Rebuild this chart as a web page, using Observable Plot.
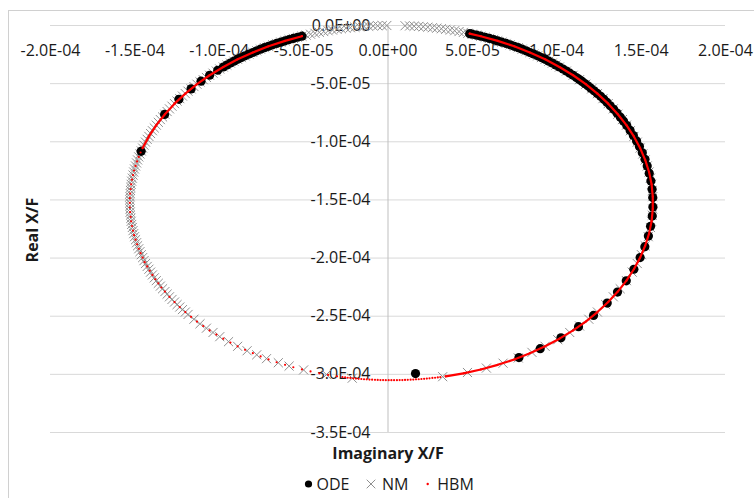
<!DOCTYPE html>
<html>
<head>
<meta charset="utf-8">
<script src="https://cdn.jsdelivr.net/npm/d3@7"></script>
<script src="https://cdn.jsdelivr.net/npm/@observablehq/plot@0.6"></script>
<style>
html,body{margin:0;padding:0;background:#fff;}
#wrap{position:relative;width:754px;height:498px;overflow:hidden;font-family:"Open Sans",sans-serif;}
#chart{position:absolute;left:0;top:0;}
#legend{position:absolute;left:0;top:470px;width:754px;height:28px;}
#frame{position:absolute;left:8px;top:10px;width:900px;height:700px;border-left:1px solid #d0d0d0;border-top:1px solid #d0d0d0;pointer-events:none;}
</style>
</head>
<body>
<div id="wrap"><div id="chart"></div><div id="legend"></div><div id="frame"></div></div>
<script>
// Axis ticks
const xTickValues = [-2e-4, -1.5e-4, -1e-4, -5e-5, 0, 5e-5, 1e-4, 1.5e-4, 2e-4];
const xTickLabels = ["-2.0E-04", "-1.5E-04", "-1.0E-04", "-5.0E-05", "0.0E+00", "5.0E-05", "1.0E-04", "1.5E-04", "2.0E-04"];
const yTickValues = [0, -5e-5, -1e-4, -1.5e-4, -2e-4, -2.5e-4, -3e-4, -3.5e-4];
const yTickLabels = ["0.0E+00", "-5.0E-05", "-1.0E-04", "-1.5E-04", "-2.0E-04", "-2.5E-04", "-3.0E-04", "-3.5E-04"];
const seriesNames = ["ODE", "NM", "HBM"];
const xTitle = "Imaginary X/F";
const yTitle = "Real X/F";

// ODE series: [imaginary, real]
const ode = [
[-51.0e-6,-9.2e-6],[-53.6e-6,-10.1e-6],[-56.1e-6,-11.1e-6],[-58.6e-6,-12.1e-6],[-61.0e-6,-13.2e-6],[-63.5e-6,-14.3e-6],[-66.0e-6,-15.4e-6],[-68.4e-6,-16.6e-6],[-70.8e-6,-17.9e-6],[-73.2e-6,-19.1e-6],
[-75.5e-6,-20.4e-6],[-77.8e-6,-21.8e-6],[-80.1e-6,-23.2e-6],[-82.4e-6,-24.6e-6],[-84.7e-6,-26.1e-6],[-86.9e-6,-27.6e-6],[-89.1e-6,-29.1e-6],[-91.3e-6,-30.7e-6],[-93.4e-6,-32.3e-6],[-95.5e-6,-34.0e-6],
[-97.6e-6,-35.7e-6],[-100.9e-6,-38.5e-6],[-105.7e-6,-42.8e-6],[-110.8e-6,-47.9e-6],[-116.7e-6,-54.5e-6],[-123.9e-6,-63.5e-6],[-132.4e-6,-76.5e-6],[-146.3e-6,-108.2e-6],
[16.3e-6,-299.3e-6],
[77.6e-6,-285.6e-6],[90.2e-6,-277.9e-6],[102.5e-6,-268.6e-6],[112.9e-6,-259.0e-6],[121.8e-6,-249.3e-6],[129.9e-6,-238.7e-6],[136.0e-6,-229.2e-6],[141.2e-6,-219.6e-6],[145.7e-6,-209.6e-6],[149.4e-6,-199.6e-6],
[152.2e-6,-190.2e-6],[154.3e-6,-181.1e-6],[155.6e-6,-172.7e-6],[156.6e-6,-163.9e-6],[157.0e-6,-156.0e-6],[156.9e-6,-148.0e-6],[156.5e-6,-140.8e-6],[155.8e-6,-133.7e-6],[154.8e-6,-127.1e-6],[153.6e-6,-120.8e-6],
[152.3e-6,-115.1e-6],[150.7e-6,-109.5e-6],[149.0e-6,-104.1e-6],[147.3e-6,-99.3e-6],[145.4e-6,-94.6e-6],[143.5e-6,-90.2e-6],[141.5e-6,-86.1e-6],[139.6e-6,-82.3e-6],[137.7e-6,-78.8e-6],[135.7e-6,-75.3e-6],
[133.7e-6,-72.1e-6],[131.7e-6,-69.0e-6],[129.7e-6,-66.1e-6],[127.9e-6,-63.5e-6],[126.0e-6,-60.9e-6],[124.0e-6,-58.4e-6],[122.1e-6,-56.1e-6],[120.2e-6,-53.9e-6],[118.4e-6,-51.9e-6],[116.6e-6,-49.9e-6],
[115.0e-6,-48.1e-6],[113.3e-6,-46.4e-6],[111.6e-6,-44.7e-6],[109.7e-6,-42.8e-6],[107.7e-6,-41.0e-6],[105.7e-6,-39.2e-6],[103.7e-6,-37.4e-6],[101.6e-6,-35.7e-6],[99.5e-6,-34.0e-6],[97.4e-6,-32.3e-6],
[95.3e-6,-30.7e-6],[93.1e-6,-29.1e-6],[90.9e-6,-27.6e-6],[88.7e-6,-26.1e-6],[86.4e-6,-24.6e-6],[84.1e-6,-23.2e-6],[81.8e-6,-21.8e-6],[79.5e-6,-20.4e-6],[77.2e-6,-19.1e-6],[74.8e-6,-17.9e-6],
[72.4e-6,-16.6e-6],[70.0e-6,-15.4e-6],[67.5e-6,-14.3e-6],[65.0e-6,-13.2e-6],[62.6e-6,-12.1e-6],[60.1e-6,-11.1e-6],[57.6e-6,-10.1e-6],[55.0e-6,-9.2e-6],[52.5e-6,-8.3e-6],[49.9e-6,-7.5e-6],[48.4e-6,-7.0e-6]
];

// NM series: [imaginary, real]
const nm = [
[-0.7e-6,0.0e-6],[-3.4e-6,-0.1e-6],[-6.1e-6,-0.2e-6],[-8.8e-6,-0.4e-6],[-11.5e-6,-0.6e-6],[-14.2e-6,-0.8e-6],[-16.9e-6,-1.1e-6],[-19.6e-6,-1.5e-6],[-22.3e-6,-1.9e-6],[-24.9e-6,-2.3e-6],
[-27.6e-6,-2.8e-6],[-30.2e-6,-3.3e-6],[-32.9e-6,-3.9e-6],[-35.5e-6,-4.5e-6],[-38.1e-6,-5.2e-6],[-40.7e-6,-5.9e-6],[-43.3e-6,-6.7e-6],[-45.9e-6,-7.5e-6],[-48.5e-6,-8.3e-6],[-51.0e-6,-9.2e-6],
[-53.6e-6,-10.1e-6],[-56.1e-6,-11.1e-6],[-58.6e-6,-12.1e-6],[-61.0e-6,-13.2e-6],[-63.5e-6,-14.3e-6],[-66.0e-6,-15.4e-6],[-68.4e-6,-16.6e-6],[-70.8e-6,-17.9e-6],[-73.2e-6,-19.1e-6],[-75.5e-6,-20.4e-6],
[-77.8e-6,-21.8e-6],[-80.1e-6,-23.2e-6],[-82.4e-6,-24.6e-6],[-84.7e-6,-26.1e-6],[-86.9e-6,-27.6e-6],[-89.1e-6,-29.1e-6],[-91.3e-6,-30.7e-6],[-93.4e-6,-32.3e-6],[-95.5e-6,-34.0e-6],[-97.6e-6,-35.7e-6],
[-99.7e-6,-37.4e-6],[-101.7e-6,-39.2e-6],[-103.7e-6,-41.0e-6],[-105.7e-6,-42.8e-6],[-107.6e-6,-44.7e-6],[-109.5e-6,-46.6e-6],[-111.4e-6,-48.5e-6],[-113.2e-6,-50.5e-6],[-115.0e-6,-52.5e-6],[-116.7e-6,-54.5e-6],
[-118.5e-6,-56.5e-6],[-120.1e-6,-58.6e-6],[-121.8e-6,-60.7e-6],[-123.4e-6,-62.9e-6],[-125.0e-6,-65.0e-6],[-126.5e-6,-67.2e-6],[-128.0e-6,-69.4e-6],[-129.5e-6,-71.7e-6],[-130.9e-6,-74.0e-6],[-132.2e-6,-76.3e-6],
[-133.6e-6,-78.6e-6],[-134.9e-6,-80.9e-6],[-136.1e-6,-83.3e-6],[-137.3e-6,-85.7e-6],[-138.5e-6,-88.1e-6],[-139.6e-6,-90.5e-6],[-140.7e-6,-92.9e-6],[-141.7e-6,-95.4e-6],[-142.7e-6,-97.9e-6],[-143.7e-6,-100.3e-6],
[-144.6e-6,-102.9e-6],[-145.4e-6,-105.4e-6],[-146.2e-6,-107.9e-6],[-147.0e-6,-110.5e-6],[-147.7e-6,-113.0e-6],[-148.4e-6,-115.6e-6],[-149.0e-6,-118.2e-6],[-149.6e-6,-120.8e-6],[-150.2e-6,-123.4e-6],[-150.7e-6,-126.0e-6],
[-151.1e-6,-128.6e-6],[-151.5e-6,-131.3e-6],[-151.9e-6,-133.9e-6],[-152.2e-6,-136.6e-6],[-152.4e-6,-139.2e-6],[-152.6e-6,-141.9e-6],[-152.8e-6,-144.5e-6],[-152.9e-6,-147.2e-6],[-153.0e-6,-149.8e-6],[-153.0e-6,-152.5e-6],
[-153.0e-6,-155.2e-6],[-152.9e-6,-157.8e-6],[-152.8e-6,-160.5e-6],[-152.6e-6,-163.1e-6],[-152.4e-6,-165.8e-6],[-152.2e-6,-168.4e-6],[-151.9e-6,-171.1e-6],[-151.5e-6,-173.7e-6],[-151.1e-6,-176.4e-6],[-150.7e-6,-179.0e-6],
[-150.2e-6,-181.6e-6],[-149.6e-6,-184.2e-6],[-149.0e-6,-186.8e-6],[-148.4e-6,-189.4e-6],[-147.7e-6,-192.0e-6],[-147.0e-6,-194.5e-6],[-146.2e-6,-197.1e-6],[-145.4e-6,-199.6e-6],[-144.6e-6,-202.2e-6],[-143.7e-6,-204.7e-6],
[-142.7e-6,-207.2e-6],[-141.7e-6,-209.6e-6],[-140.7e-6,-212.1e-6],[-139.6e-6,-214.5e-6],[-138.5e-6,-217.0e-6],[-137.3e-6,-219.4e-6],[-136.1e-6,-221.7e-6],[-134.9e-6,-224.1e-6],[-133.6e-6,-226.4e-6],[-132.2e-6,-228.8e-6],
[-130.9e-6,-231.0e-6],[-129.5e-6,-233.3e-6],[-128.0e-6,-235.6e-6],[-126.5e-6,-237.8e-6],[-125.0e-6,-240.0e-6],[-123.4e-6,-242.1e-6],[-121.8e-6,-244.3e-6],[-120.1e-6,-246.4e-6],[-118.5e-6,-248.5e-6],[-115.0e-6,-252.6e-6],
[-111.4e-6,-256.5e-6],[-107.6e-6,-260.3e-6],[-103.7e-6,-264.0e-6],[-99.7e-6,-267.6e-6],[-94.5e-6,-271.9e-6],[-89.1e-6,-275.9e-6],[-83.5e-6,-279.7e-6],[-77.8e-6,-283.2e-6],[-72.0e-6,-286.5e-6],[-65.0e-6,-290.0e-6],
[-58.6e-6,-292.9e-6],[-50.0e-6,-296.2e-6],[-36.5e-6,-300.2e-6],[-21.2e-6,-303.3e-6],
[32.4e-6,-302.0e-6],[47.1e-6,-298.4e-6],[58.3e-6,-294.6e-6],[68.2e-6,-290.4e-6],[77.2e-6,-285.9e-6],[85.3e-6,-281.1e-6],[93.1e-6,-275.9e-6],[100.6e-6,-270.2e-6],[107.7e-6,-264.0e-6],[113.5e-6,-258.4e-6],
[119.0e-6,-252.6e-6],[124.1e-6,-246.4e-6],[129.0e-6,-240.0e-6],[133.5e-6,-233.3e-6],[137.6e-6,-226.4e-6],[141.3e-6,-219.4e-6],[144.7e-6,-212.1e-6],[147.7e-6,-204.7e-6],[150.2e-6,-197.1e-6],[152.4e-6,-189.4e-6],
[154.2e-6,-181.6e-6],[155.5e-6,-173.7e-6],[156.2e-6,-168.4e-6],[156.6e-6,-163.1e-6],[156.9e-6,-157.8e-6],[157.0e-6,-152.5e-6],[156.9e-6,-147.2e-6],[156.6e-6,-141.9e-6],[156.2e-6,-136.6e-6],[155.5e-6,-131.3e-6],
[154.7e-6,-126.0e-6],[153.6e-6,-120.8e-6],[152.4e-6,-115.6e-6],[151.0e-6,-110.5e-6],[149.4e-6,-105.4e-6],[147.7e-6,-100.3e-6],[145.7e-6,-95.4e-6],[143.6e-6,-90.5e-6],[141.3e-6,-85.7e-6],[138.9e-6,-80.9e-6],
[136.2e-6,-76.3e-6],[133.5e-6,-71.7e-6],[130.5e-6,-67.2e-6],[127.4e-6,-62.9e-6],[124.1e-6,-58.6e-6],[120.7e-6,-54.5e-6],[117.2e-6,-50.5e-6],[113.5e-6,-46.6e-6],[109.7e-6,-42.8e-6],[105.7e-6,-39.2e-6],
[101.6e-6,-35.7e-6],[99.5e-6,-34.0e-6],[97.4e-6,-32.3e-6],[95.3e-6,-30.7e-6],[93.1e-6,-29.1e-6],[90.9e-6,-27.6e-6],[88.7e-6,-26.1e-6],[86.4e-6,-24.6e-6],[84.1e-6,-23.2e-6],[81.8e-6,-21.8e-6],
[79.5e-6,-20.4e-6],[77.2e-6,-19.1e-6],[74.8e-6,-17.9e-6],[72.4e-6,-16.6e-6],[70.0e-6,-15.4e-6],[67.5e-6,-14.3e-6],[65.0e-6,-13.2e-6],[62.6e-6,-12.1e-6],[60.1e-6,-11.1e-6],[57.6e-6,-10.1e-6],
[55.0e-6,-9.2e-6],[52.5e-6,-8.3e-6],[49.9e-6,-7.5e-6],[47.3e-6,-6.7e-6],[44.7e-6,-5.9e-6],[42.1e-6,-5.2e-6],[39.5e-6,-4.5e-6],[36.9e-6,-3.9e-6],[34.2e-6,-3.3e-6],[31.6e-6,-2.8e-6],
[28.9e-6,-2.3e-6],[26.3e-6,-1.9e-6],[23.6e-6,-1.5e-6],[20.9e-6,-1.1e-6],[18.2e-6,-0.8e-6],[15.5e-6,-0.6e-6],[12.8e-6,-0.4e-6],[10.1e-6,-0.2e-6]
];

// HBM series: [imaginary, real], in three stretches (dense upper-left, sparse lower, dense right)
const hbmUpperLeft = [
[-51.0e-6,-9.2e-6],[-61.0e-6,-13.2e-6],[-70.8e-6,-17.9e-6],[-80.1e-6,-23.2e-6],[-89.1e-6,-29.1e-6],[-97.6e-6,-35.7e-6],[-105.7e-6,-42.8e-6],
[-113.2e-6,-50.5e-6],[-120.1e-6,-58.6e-6],[-126.5e-6,-67.2e-6],[-132.2e-6,-76.3e-6],[-137.3e-6,-85.7e-6],[-141.7e-6,-95.4e-6],[-145.4e-6,-105.4e-6]
];
const hbmLower = [
[-146.6e-6,-109.2e-6],[-147.7e-6,-113.0e-6],[-148.7e-6,-116.9e-6],[-149.6e-6,-120.8e-6],[-150.5e-6,-124.7e-6],[-151.1e-6,-128.6e-6],[-151.7e-6,-132.6e-6],[-152.2e-6,-136.6e-6],
[-152.5e-6,-140.6e-6],[-152.8e-6,-144.5e-6],[-153.0e-6,-148.5e-6],[-153.0e-6,-152.5e-6],[-153.0e-6,-156.5e-6],[-152.8e-6,-160.5e-6],[-152.5e-6,-164.5e-6],[-152.2e-6,-168.4e-6],
[-151.7e-6,-172.4e-6],[-151.1e-6,-176.4e-6],[-150.5e-6,-180.3e-6],[-149.6e-6,-184.2e-6],[-148.7e-6,-188.1e-6],[-147.7e-6,-192.0e-6],[-146.6e-6,-195.8e-6],[-145.4e-6,-199.6e-6],
[-144.2e-6,-203.5e-6],[-142.7e-6,-207.2e-6],[-141.2e-6,-210.9e-6],[-139.6e-6,-214.5e-6],[-137.9e-6,-218.2e-6],[-136.1e-6,-221.7e-6],[-134.3e-6,-225.3e-6],[-132.2e-6,-228.8e-6],
[-129.5e-6,-233.3e-6],[-126.5e-6,-237.8e-6],[-123.4e-6,-242.1e-6],[-120.1e-6,-246.4e-6],[-116.7e-6,-250.5e-6],[-113.2e-6,-254.6e-6],[-109.5e-6,-258.4e-6],[-105.7e-6,-262.2e-6],
[-101.7e-6,-265.8e-6],[-97.6e-6,-269.3e-6],[-93.4e-6,-272.7e-6],[-89.1e-6,-275.9e-6],[-84.7e-6,-278.9e-6],[-80.1e-6,-281.8e-6],[-75.5e-6,-284.6e-6],[-70.8e-6,-287.2e-6],
[-66.0e-6,-289.6e-6],[-61.0e-6,-291.8e-6],[-56.1e-6,-293.9e-6],[-51.0e-6,-295.8e-6],[-45.9e-6,-297.5e-6],[-40.7e-6,-299.1e-6],[-35.5e-6,-300.5e-6],[-30.2e-6,-301.7e-6],
[-27.0e-6,-302.3e-6],[-25.4e-6,-302.6e-6],[-23.9e-6,-302.9e-6],[-22.3e-6,-303.1e-6],[-20.6e-6,-303.4e-6],[-19.0e-6,-303.6e-6],[-17.4e-6,-303.8e-6],[-15.8e-6,-304.0e-6],
[-14.2e-6,-304.2e-6],[-12.6e-6,-304.3e-6],[-11.0e-6,-304.5e-6],[-9.4e-6,-304.6e-6],[-7.7e-6,-304.7e-6],[-6.1e-6,-304.8e-6],[-4.5e-6,-304.9e-6],[-2.9e-6,-304.9e-6],
[-1.3e-6,-305.0e-6],[0.4e-6,-305.0e-6],[2.0e-6,-305.0e-6],[3.6e-6,-305.0e-6],[5.3e-6,-305.0e-6],[6.9e-6,-304.9e-6],[8.5e-6,-304.9e-6],[10.1e-6,-304.8e-6],
[11.7e-6,-304.7e-6],[13.4e-6,-304.6e-6],[15.0e-6,-304.5e-6],[16.6e-6,-304.3e-6],[18.2e-6,-304.2e-6],[19.8e-6,-304.0e-6],[21.4e-6,-303.8e-6],[23.0e-6,-303.6e-6],
[24.6e-6,-303.4e-6],[26.3e-6,-303.1e-6],[27.9e-6,-302.9e-6],[29.5e-6,-302.6e-6],[31.0e-6,-302.3e-6]
];
const hbmRight = [
[34.2e-6,-301.7e-6],[44.7e-6,-299.1e-6],[55.0e-6,-295.8e-6],[65.0e-6,-291.8e-6],[74.8e-6,-287.2e-6],[84.1e-6,-281.8e-6],[93.1e-6,-275.9e-6],[101.6e-6,-269.3e-6],
[109.7e-6,-262.2e-6],[117.2e-6,-254.6e-6],[124.1e-6,-246.4e-6],[130.5e-6,-237.8e-6],[136.2e-6,-228.8e-6],[141.3e-6,-219.4e-6],[145.7e-6,-209.6e-6],[149.4e-6,-199.6e-6],
[152.4e-6,-189.4e-6],[154.7e-6,-179.0e-6],[156.2e-6,-168.4e-6],[156.9e-6,-157.8e-6],[156.9e-6,-147.2e-6],[156.2e-6,-136.6e-6],[154.7e-6,-126.0e-6],[152.4e-6,-115.6e-6],
[149.4e-6,-105.4e-6],[145.7e-6,-95.4e-6],[141.3e-6,-85.7e-6],[136.2e-6,-76.3e-6],[130.5e-6,-67.2e-6],[124.1e-6,-58.6e-6],[117.2e-6,-50.5e-6],[109.7e-6,-42.8e-6],
[101.6e-6,-35.7e-6],[93.1e-6,-29.1e-6],[84.1e-6,-23.2e-6],[74.8e-6,-17.9e-6],[65.0e-6,-13.2e-6],[55.0e-6,-9.2e-6],[48.4e-6,-7.0e-6]
];
const hbm = hbmUpperLeft.concat(hbmLower, hbmRight);

const FONT = "'Open Sans', sans-serif";
const TEXT = "#1a1a1a";
const colODE = "#000000", colNM = "#8f8f8f", colHBM = "#ff0000";
const X = d => d[0], Y = d => d[1];

const chart = Plot.plot({
  width: 754,
  height: 470,
  marginTop: 25,
  marginBottom: 38,
  marginLeft: 50,
  marginRight: 29,
  style: {fontFamily: FONT, background: "transparent", color: TEXT},
  x: {domain: [d3.min(xTickValues), d3.max(xTickValues)], axis: null},
  y: {domain: [d3.min(yTickValues), d3.max(yTickValues)], axis: null},
  marks: [
    Plot.ruleY(yTickValues, {stroke: "#d9d9d9", strokeWidth: 1}),
    Plot.ruleX([0], {stroke: "#bfbfbf", strokeWidth: 1}),
    Plot.text(xTickValues, {x: d => d, y: () => 0, text: (d, i) => xTickLabels[i], dy: 25.5, fontSize: 16, fill: TEXT, textAnchor: "middle", lineAnchor: "middle"}),
    Plot.text(yTickValues, {x: () => 0, y: d => d, text: (d, i) => yTickLabels[i], dx: -17.5, fontSize: 16, fill: TEXT, textAnchor: "end", lineAnchor: "middle"}),
    Plot.text([xTitle], {frameAnchor: "bottom", text: d => d, dy: 21.5, fontSize: 16, fontWeight: "bold", fill: TEXT, textAnchor: "middle", lineAnchor: "middle"}),
    Plot.text([yTitle], {frameAnchor: "left", text: d => d, rotate: -90, dx: -18, dy: 1, fontSize: 16, fontWeight: "bold", fill: TEXT, textAnchor: "middle", lineAnchor: "middle"}),
    Plot.dot(nm, {x: X, y: Y, symbol: "times", r: 4.2, stroke: colNM, strokeWidth: 1}),
    Plot.dot(ode, {x: X, y: Y, r: 4.6, fill: colODE, stroke: null}),
    Plot.line(hbmUpperLeft, {x: X, y: Y, stroke: colHBM, strokeWidth: 2.2}),
    Plot.line(hbmRight, {x: X, y: Y, stroke: colHBM, strokeWidth: 2.2}),
    Plot.dot(hbm, {x: X, y: Y, r: 1.1, fill: colHBM, stroke: null})
  ]
});
document.getElementById("chart").append(chart);

// Legend below the plot
const leg = d3.select("#legend").append("svg").attr("width", 754).attr("height", 28)
  .style("font-family", FONT).style("font-size", "16px");
const cy = 14;
leg.append("circle").attr("cx", 308.5).attr("cy", cy).attr("r", 3.6).attr("fill", colODE);
leg.append("text").attr("x", 316.5).attr("y", cy).attr("dy", "0.36em").attr("fill", TEXT).text(seriesNames[0]);
leg.append("path").attr("d", d3.symbol(d3.symbolTimes, 50)()).attr("transform", `translate(371,${cy})`).attr("stroke", colNM).attr("stroke-width", 1).attr("fill", "none");
leg.append("text").attr("x", 382).attr("y", cy).attr("dy", "0.36em").attr("fill", TEXT).text(seriesNames[1]);
leg.append("circle").attr("cx", 427.7).attr("cy", cy).attr("r", 1.2).attr("fill", colHBM);
leg.append("text").attr("x", 437.3).attr("y", cy).attr("dy", "0.36em").attr("fill", TEXT).text(seriesNames[2]);
</script>
</body>
</html>
